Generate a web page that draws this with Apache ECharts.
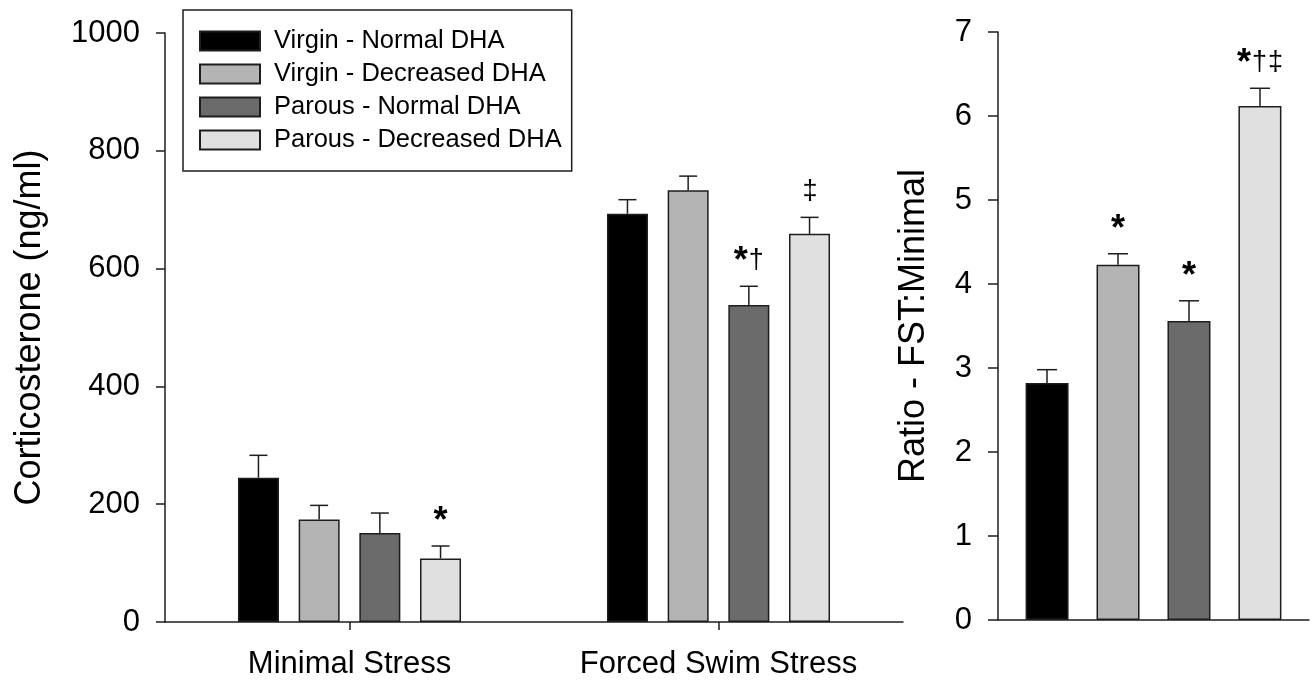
<!DOCTYPE html>
<html>
<head>
<meta charset="utf-8">
<script src="https://cdn.jsdelivr.net/npm/echarts@6/dist/echarts.min.js"></script>
<style>
  html, body { margin: 0; padding: 0; background: #fff; }
  #main { width: 1314px; height: 681px; }
</style>
</head>
<body>
<div id="main"></div>
<script>
// groups (legend) and stress conditions
const groups = ['Virgin - Normal DHA', 'Virgin - Decreased DHA', 'Parous - Normal DHA', 'Parous - Decreased DHA'];
const stressCats = ['Minimal Stress', 'Forced Swim Stress'];
const groupColors = ['#000000', '#b4b4b4', '#6b6b6b', '#e0e0e0'];

// corticosterone (ng/ml), one row per group: [minimal, forced swim]
const cortMean = [[245, 693], [174, 733], [151, 538], [108, 659]];
const cortErr = [[38, 24], [24, 24], [34, 32], [21, 28]];
const cortMarks = [['', ''], ['', ''], ['', '*†'], ['*', '‡']];

// ratio FST:Minimal, one value per group
const ratioMean = [2.82, 4.23, 3.56, 6.12];
const ratioErr = [0.16, 0.13, 0.24, 0.21];
const ratioMarks = ['', '*', '*', '*†‡'];

const FONT = 'Liberation Sans, Arial, Helvetica, sans-serif';
const INK = '#1e1e1e';

let myChart = echarts.init(document.getElementById('main'));

// turn "*†‡" into rich text: big bold star, smaller daggers
function richMark(m) {
    let out = '';
    for (const ch of m) {
        out += ch === '*' ? '{s|*}' : '{d|' + ch + '}';
    }
    return out;
}

function errSeries(axis, rows, pitch, cap) {
    return {
        type: 'custom',
        xAxisIndex: axis,
        yAxisIndex: axis,
        z: 5,
        silent: true,
        clip: false,
        data: rows.map(r => [r.cat, r.mean + r.err]),
        renderItem: function (params, api) {
            let r = rows[params.dataIndex];
            let base = api.coord([r.cat, r.mean]);
            let top = api.coord([r.cat, r.mean + r.err]);
            let x = base[0] + (r.k - 1.5) * pitch;
            let lineStyle = { stroke: INK, lineWidth: 1.5 };
            let children = [
                { type: 'line', shape: { x1: x, y1: base[1], x2: x, y2: top[1] }, style: lineStyle },
                { type: 'line', shape: { x1: x - cap / 2, y1: top[1], x2: x + cap / 2, y2: top[1] }, style: lineStyle }
            ];
            if (r.mark) {
                children.push({
                    type: 'text',
                    x: x,
                    y: top[1] - 6,
                    style: {
                        text: richMark(r.mark),
                        align: 'center',
                        verticalAlign: 'bottom',
                        rich: {
                            s: { fontSize: 36, fontWeight: 'bold', fontFamily: FONT, fill: '#000', verticalAlign: 'bottom', lineHeight: 30 },
                            d: { fontSize: 27, fontFamily: FONT, fill: '#000', verticalAlign: 'bottom', lineHeight: 30, padding: [0, 0, 6, 1] }
                        }
                    }
                });
            }
            return { type: 'group', children: children };
        }
    };
}

let cortRows = [];
let ratioRows = [];
let series = [];
groups.forEach(function (g, k) {
    series.push({
        name: g,
        type: 'bar',
        xAxisIndex: 0,
        yAxisIndex: 0,
        barWidth: 41,
        barGap: '48%',
        itemStyle: { color: groupColors[k], borderColor: INK, borderWidth: 1.5 },
        data: cortMean[k]
    });
    cortMean[k].forEach(function (v, c) {
        cortRows.push({ cat: c, k: k, mean: v, err: cortErr[k][c], mark: cortMarks[k][c] });
    });
});
groups.forEach(function (g, k) {
    series.push({
        name: g,
        type: 'bar',
        xAxisIndex: 1,
        yAxisIndex: 1,
        barWidth: 43,
        barGap: '65%',
        itemStyle: { color: groupColors[k], borderColor: INK, borderWidth: 1.5 },
        data: [ratioMean[k]]
    });
    ratioRows.push({ cat: 0, k: k, mean: ratioMean[k], err: ratioErr[k], mark: ratioMarks[k] });
});
series.push(errSeries(0, cortRows, 41 + 19.7, 18));
series.push(errSeries(1, ratioRows, 43 + 28, 20));

let axisLine = { show: true, lineStyle: { color: INK, width: 1.5 } };
let tickStyle = { color: INK, width: 1.5 };

myChart.setOption({
    animation: false,
    backgroundColor: '#fff',
    textStyle: { fontFamily: FONT },
    legend: {
        data: groups,
        orient: 'vertical',
        left: 183,
        top: 10,
        icon: 'rect',
        itemWidth: 60,
        itemHeight: 19,
        itemGap: 7,
        padding: [18, 10, 18, 16],
        borderColor: INK,
        borderWidth: 1.5,
        borderRadius: 0,
        selectedMode: false,
        textStyle: { fontSize: 25.5, color: '#000', fontFamily: FONT, padding: [0, 0, 0, 9] }
    },
    grid: [
        { left: 165, right: 411, top: 33, bottom: 59 },
        { left: 998, right: 5, top: 32, bottom: 61 }
    ],
    xAxis: [
        {
            type: 'category',
            gridIndex: 0,
            data: stressCats,
            axisLine: axisLine,
            axisTick: { show: true, alignWithLabel: true, length: 8, lineStyle: tickStyle },
            axisLabel: { fontSize: 31, color: '#000', margin: 27, fontFamily: FONT },
            splitLine: { show: false }
        },
        {
            type: 'category',
            gridIndex: 1,
            data: [''],
            axisLine: axisLine,
            axisTick: { show: false },
            axisLabel: { show: false },
            splitLine: { show: false }
        }
    ],
    yAxis: [
        {
            type: 'value',
            gridIndex: 0,
            min: 0,
            max: 1000,
            interval: 200,
            name: 'Corticosterone (ng/ml)',
            nameLocation: 'middle',
            nameGap: 117,
            nameTextStyle: { fontSize: 36, color: '#000', fontFamily: FONT },
            axisLine: axisLine,
            axisTick: { show: true, length: 9, lineStyle: tickStyle },
            axisLabel: { fontSize: 31, color: '#000', margin: 25, fontFamily: FONT, formatter: v => String(v) },
            splitLine: { show: false }
        },
        {
            type: 'value',
            gridIndex: 1,
            min: 0,
            max: 7,
            interval: 1,
            name: 'Ratio - FST:Minimal',
            nameLocation: 'middle',
            nameGap: 66,
            nameTextStyle: { fontSize: 36, color: '#000', fontFamily: FONT },
            axisLine: axisLine,
            axisTick: { show: true, length: 10, lineStyle: tickStyle },
            axisLabel: { fontSize: 31, color: '#000', margin: 26, fontFamily: FONT, formatter: v => String(v) },
            splitLine: { show: false }
        }
    ],
    series: series
});
</script>
</body>
</html>
